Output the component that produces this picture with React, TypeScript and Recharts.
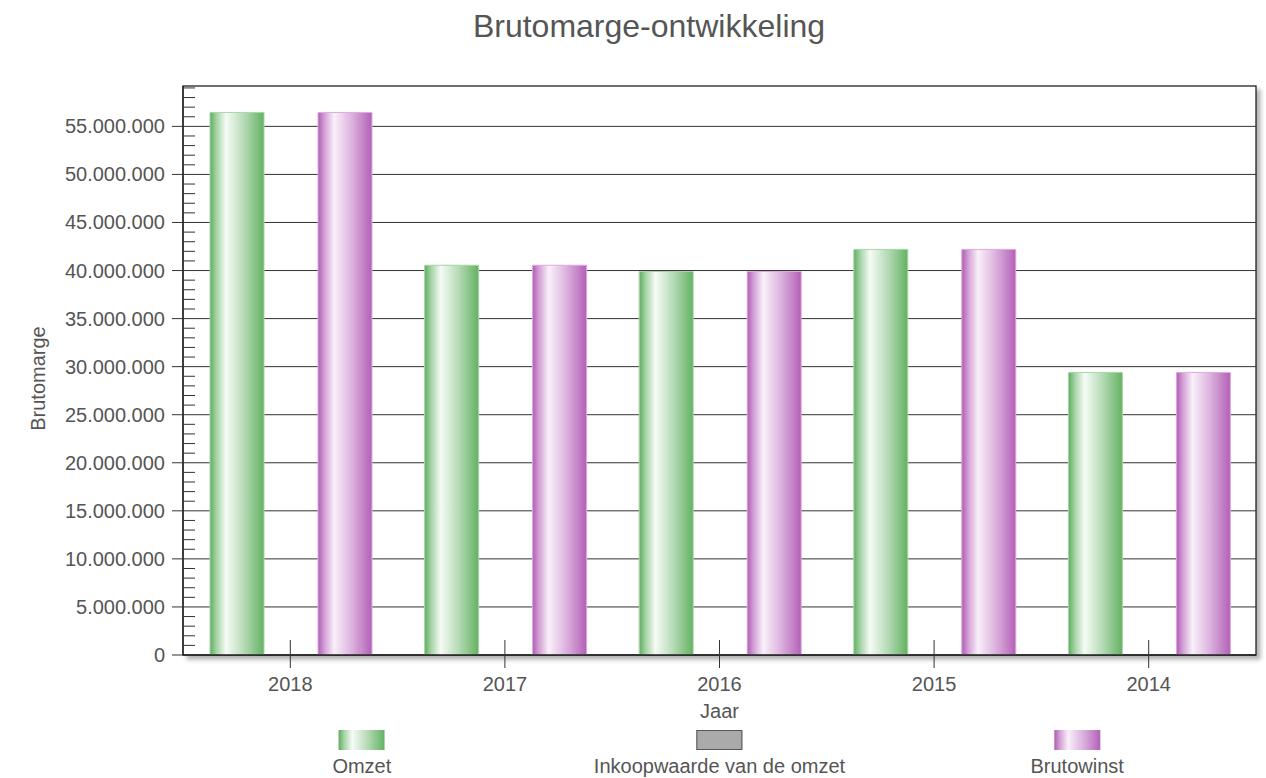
import { BarChart, Bar, XAxis, YAxis, CartesianGrid, Legend } from 'recharts';

const years = ['2018', '2017', '2016', '2015', '2014'];
const omzet = [56450000, 40550000, 39900000, 42200000, 29400000];
const inkoopwaarde = [0, 0, 0, 0, 0];
const brutowinst = [56450000, 40550000, 39900000, 42200000, 29400000];

const yMax = 59200000;
const yTicks = Array.from({ length: 60 }, (_, i) => i * 1000000);
const majorTicks = yTicks.filter((v) => v % 5000000 === 0 && v > 0);

const data = years.map((jaar, i) => ({
  jaar,
  omzet: omzet[i],
  inkoopwaarde: inkoopwaarde[i],
  brutowinst: brutowinst[i],
}));

const textColor = '#555';
const lineColor = '#333';
const font = '"Liberation Sans", Arial, sans-serif';
const fs = 20;

const fmt = (v: number) => String(v).replace(/\B(?=(\d{3})+(?!\d))/g, '.');

const greenGrad = 'linear-gradient(to right, #5eae5e 0%, #a5d3a5 12%, #f6fbf6 30%, #b7dbb7 62%, #63b263 100%)';
const purpleGrad = 'linear-gradient(to right, #af5bb4 0%, #d3a0d6 12%, #f9f0f9 30%, #dcb3de 62%, #b360b7 100%)';

const legendItems = [
  { name: 'Omzet', bg: greenGrad, border: 'none' },
  { name: 'Inkoopwaarde van de omzet', bg: '#aaaaaa', border: '1px solid #555' },
  { name: 'Brutowinst', bg: purpleGrad, border: 'none' },
];

const XTick = ({ x, y, payload }: any) => (
  <g>
    <line x1={x} x2={x} y1={y - 15} y2={y + 13} stroke={lineColor} strokeWidth={1} />
    <text x={x} y={y + 36} textAnchor="middle" fill={textColor} fontSize={fs} fontFamily={font}>
      {payload.value}
    </text>
  </g>
);

const YTick = ({ x, y, payload }: any) => {
  const v = payload.value;
  if (v % 5000000 === 0) {
    return (
      <g>
        <line x1={x - 11} x2={x} y1={y} y2={y} stroke={lineColor} strokeWidth={1} />
        <text x={x - 18} y={y} dy="0.35em" textAnchor="end" fill={textColor} fontSize={fs} fontFamily={font}>
          {fmt(v)}
        </text>
      </g>
    );
  }
  return <line x1={x} x2={x + 12} y1={y} y2={y} stroke={lineColor} strokeWidth={1} />;
};

const LegendContent = () => (
  <div style={{ position: 'relative', width: 1266, height: 60, fontFamily: font }}>
    {legendItems.map((item, i) => (
      <div
        key={item.name}
        style={{
          position: 'absolute',
          left: 183 + (1073 / 3) * (i + 0.5),
          top: 0,
          transform: 'translateX(-50%)',
          display: 'flex',
          flexDirection: 'column',
          alignItems: 'center',
          whiteSpace: 'nowrap',
        }}
      >
        <div style={{ width: 46, height: 20, marginTop: 15, background: item.bg, border: item.border, boxSizing: 'border-box' }} />
        <div style={{ marginTop: 5, fontSize: fs, lineHeight: '22px', color: textColor }}>{item.name}</div>
      </div>
    ))}
  </div>
);

export default function App() {
  return (
    <div style={{ position: 'relative', width: 1266, height: 778, fontFamily: font }}>
      <style>{`
        body { margin: 0; }
        .recharts-cartesian-grid-bg { stroke: #222; stroke-width: 1.3px; filter: drop-shadow(4px 4px 2px rgba(0,0,0,0.3)); }
      `}</style>
      <div
        style={{
          position: 'absolute',
          top: 6,
          left: 649,
          transform: 'translateX(-50%)',
          fontSize: 32,
          lineHeight: '40px',
          color: textColor,
          whiteSpace: 'nowrap',
        }}
      >
        Brutomarge-ontwikkeling
      </div>
      <BarChart
        width={1266}
        height={778}
        data={data}
        margin={{ top: 86, right: 10, left: 0, bottom: 3 }}
        barCategoryGap={27}
        barGap={0}
      >
        <defs>
          <linearGradient id="gGreen" x1="0" y1="0" x2="1" y2="0">
            <stop offset="0%" stopColor="#5eae5e" />
            <stop offset="12%" stopColor="#a5d3a5" />
            <stop offset="30%" stopColor="#f6fbf6" />
            <stop offset="62%" stopColor="#b7dbb7" />
            <stop offset="100%" stopColor="#63b263" />
          </linearGradient>
          <linearGradient id="gPurple" x1="0" y1="0" x2="1" y2="0">
            <stop offset="0%" stopColor="#af5bb4" />
            <stop offset="12%" stopColor="#d3a0d6" />
            <stop offset="30%" stopColor="#f9f0f9" />
            <stop offset="62%" stopColor="#dcb3de" />
            <stop offset="100%" stopColor="#b360b7" />
          </linearGradient>
        </defs>
        <CartesianGrid
          vertical={false}
          horizontalValues={majorTicks}
          stroke={lineColor}
          strokeWidth={1}
          fill="#fff"
          fillOpacity={1}
        />
        <XAxis
          dataKey="jaar"
          height={60}
          tickSize={0}
          tickMargin={0}
          tickLine={false}
          axisLine={{ stroke: '#222', strokeWidth: 1.3 }}
          tick={<XTick />}
          interval={0}
          label={({ viewBox }: any) => (
            <text
              x={viewBox.x + viewBox.width / 2}
              y={viewBox.y + 63}
              textAnchor="middle"
              fill={textColor}
              fontSize={fs}
              fontFamily={font}
            >
              Jaar
            </text>
          )}
        />
        <YAxis
          width={183}
          domain={[0, yMax]}
          ticks={yTicks}
          interval={0}
          tickSize={0}
          tickMargin={0}
          tickLine={false}
          axisLine={{ stroke: '#222', strokeWidth: 1.3 }}
          tick={<YTick />}
          allowDataOverflow
          label={({ viewBox }: any) => {
            const cx = viewBox.x + 38;
            const cy = viewBox.y + viewBox.height / 2 + 8;
            return (
              <text
                x={cx}
                y={cy}
                transform={`rotate(-90 ${cx} ${cy})`}
                textAnchor="middle"
                dy="0.35em"
                fill={textColor}
                fontSize={fs}
                fontFamily={font}
              >
                Brutomarge
              </text>
            );
          }}
        />
        <Legend verticalAlign="bottom" content={<LegendContent />} wrapperStyle={{ left: 0, width: 1266, height: 60 }} />
        <Bar dataKey="omzet" name="Omzet" fill="url(#gGreen)" stroke="#a8d6a8" strokeWidth={1} isAnimationActive={false} />
        <Bar dataKey="inkoopwaarde" name="Inkoopwaarde van de omzet" fill="#aaaaaa" isAnimationActive={false} />
        <Bar dataKey="brutowinst" name="Brutowinst" fill="url(#gPurple)" stroke="#dcaadf" strokeWidth={1} isAnimationActive={false} />
      </BarChart>
    </div>
  );
}
